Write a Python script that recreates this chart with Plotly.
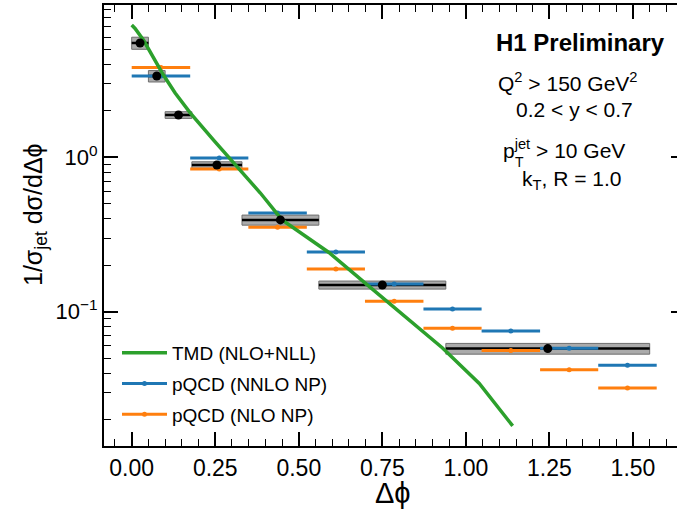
import plotly.graph_objects as go

# ---------------- data ----------------
data_edges = [0.0, 0.05, 0.10, 0.18, 0.33, 0.56, 0.94, 1.55]
data_x = [0.025, 0.075, 0.14, 0.255, 0.445, 0.75, 1.245]
data_y = [5.50, 3.36, 1.88, 0.891, 0.393, 0.149, 0.0577]
data_syst = [0.09, 0.085, 0.05, 0.05, 0.075, 0.06, 0.08]

theory_edges = [0.0, 0.175, 0.349, 0.524, 0.698, 0.873, 1.047, 1.222, 1.396, 1.571]
nnlo_np = [3.36, 0.99, 0.435, 0.244, 0.151, 0.104, 0.075, 0.058, 0.045]
nlo_np = [3.82, 0.84, 0.353, 0.189, 0.117, 0.078, 0.056, 0.042, 0.032]

tmd_x = [0.0, 0.01, 0.035, 0.065, 0.095, 0.13, 0.175, 0.245, 0.31, 0.385, 0.45,
         0.505, 0.59, 0.705, 0.93, 1.04, 1.14]
tmd_y = [7.19, 6.83, 5.75, 4.38, 3.41, 2.61, 1.94, 1.29, 0.891, 0.587, 0.393,
         0.323, 0.242, 0.149, 0.0582, 0.0343, 0.0182]

x_ticks = [0.0, 0.25, 0.5, 0.75, 1.0, 1.25, 1.5]
x_ticktext = ["0.00", "0.25", "0.50", "0.75", "1.00", "1.25", "1.50"]
y_ticks = [0.1, 1.0]
y_ticktext = ["10<sup>\u22121</sup>", "10<sup>0</sup>"]
y_minor = [m * d for d in (0.01, 0.1, 1.0) for m in range(2, 10)]

BLUE = "#1f77b4"
ORANGE = "#ff7f0e"
GREEN = "#2ca02c"
FONT = "Liberation Sans"

# derived
d_lo = [x - a for x, a in zip(data_x, data_edges[:-1])]
d_hi = [b - x for x, b in zip(data_x, data_edges[1:])]
d_w = [b - a for a, b in zip(data_edges[:-1], data_edges[1:])]
box_lo = [y * (1 - e) for y, e in zip(data_y, data_syst)]
box_hi = [y * (1 + e) for y, e in zip(data_y, data_syst)]
t_c = [(a + b) / 2 for a, b in zip(theory_edges[:-1], theory_edges[1:])]
t_hw = [(b - a) / 2 for a, b in zip(theory_edges[:-1], theory_edges[1:])]

fig = go.Figure()

fig.add_trace(go.Bar(
    x=data_x, base=box_lo, y=[h - l for h, l in zip(box_hi, box_lo)], width=d_w,
    marker=dict(color="rgba(150,150,150,0.8)", line=dict(color="rgb(110,110,110)", width=1)),
    showlegend=False, hoverinfo="skip"))

fig.add_trace(go.Scatter(
    x=data_x, y=data_y, mode="markers", marker=dict(size=1, color="rgba(0,0,0,0)"),
    error_x=dict(type="data", symmetric=False, array=d_hi, arrayminus=d_lo,
                 width=0, thickness=2.5, color="black"),
    showlegend=False))

for vals, col in ((nnlo_np, BLUE), (nlo_np, ORANGE)):
    fig.add_trace(go.Scatter(
        x=t_c, y=vals, mode="markers", marker=dict(size=5, color=col),
        error_x=dict(type="data", array=t_hw, width=0, thickness=3, color=col),
        showlegend=False))

fig.add_trace(go.Scatter(
    x=tmd_x, y=tmd_y, mode="lines", line=dict(color=GREEN, width=3.5),
    name="TMD (NLO+NLL)", legendrank=1, legendgroup="a"))

fig.add_trace(go.Scatter(
    x=data_x, y=data_y, mode="markers", marker=dict(size=9, color="black"),
    showlegend=False))

# legend entries for theory
fig.add_trace(go.Scatter(x=[None], y=[None], mode="lines+markers",
                         line=dict(color=BLUE, width=3), marker=dict(size=5, color=BLUE),
                         name="pQCD (NNLO NP)", legendrank=2, legendgroup="b"))
fig.add_trace(go.Scatter(x=[None], y=[None], mode="lines+markers",
                         line=dict(color=ORANGE, width=3), marker=dict(size=5, color=ORANGE),
                         name="pQCD (NLO NP)", legendrank=3, legendgroup="c"))

# right-hand ticks
fig.add_trace(go.Scatter(x=[None], y=[None], yaxis="y2", showlegend=False))

L, R, T, B = 104, 677, 5, 446
W, H = 677, 516


def px(x):
    return (x - L) / (R - L)


def py(y):
    return (B - y) / (B - T)


fig.update_layout(
    width=W, height=H,
    margin=dict(l=L, r=W - R, t=T, b=H - B),
    paper_bgcolor="white", plot_bgcolor="white",
    font=dict(family=FONT, color="black"),
    barmode="overlay",
    showlegend=True,
    legend=dict(x=px(117), y=py(334), xanchor="left", yanchor="top",
                font=dict(size=19, family=FONT), bgcolor="rgba(0,0,0,0)",
                traceorder="grouped", tracegroupgap=3, itemwidth=45),
    xaxis=dict(range=[-0.0829, 1.6317], tickvals=x_ticks, ticktext=x_ticktext,
               ticks="inside", ticklen=14, tickwidth=1.5, tickcolor="black",
               showline=True, linewidth=2, linecolor="black", mirror="ticks",
               showgrid=False, zeroline=False,
               tickfont=dict(size=23, family=FONT),
               minor=dict(dtick=0.05, tick0=0, ticks="inside", ticklen=7,
                          tickwidth=1.2, tickcolor="black", showgrid=False)),
    yaxis=dict(type="log", range=[-1.8698, 0.9864], tickvals=y_ticks, ticktext=y_ticktext,
               ticks="inside", ticklen=14, tickwidth=1.5, tickcolor="black",
               showline=True, linewidth=2, linecolor="black", mirror=False,
               showgrid=False, zeroline=False,
               tickfont=dict(size=22, family=FONT),
               minor=dict(tickvals=y_minor, ticks="inside", ticklen=7,
                          tickwidth=1.2, tickcolor="black", showgrid=False)),
    yaxis2=dict(type="log", range=[-1.8698, 0.9864], overlaying="y", side="right",
                anchor="x", tickvals=y_ticks, ticks="inside", ticklen=6, tickwidth=1.5,
                tickcolor="black", showticklabels=False, showline=False,
                showgrid=False, zeroline=False),
)

ann = []
ann.append(dict(text="<b>H1 Preliminary</b>", x=px(667), y=py(43), xanchor="right",
                yanchor="middle", font=dict(size=24)))
ann.append(dict(text="Q<sup>2</sup> &gt; 150 GeV<sup>2</sup>", x=px(568), y=py(82),
                xanchor="center", yanchor="middle", font=dict(size=21)))
ann.append(dict(text="0.2 &lt; y &lt; 0.7", x=px(574), y=py(109),
                xanchor="center", yanchor="middle", font=dict(size=21)))
ann.append(dict(text="p<sup>jet</sup> &gt; 10 GeV", x=px(501), y=py(149),
                xanchor="left", yanchor="middle", font=dict(size=21)))
ann.append(dict(text="T", x=px(513), y=py(162), xanchor="left",
                yanchor="middle", font=dict(size=14)))
ann.append(dict(text="k<sub>T</sub>, R = 1.0", x=px(571), y=py(180),
                xanchor="center", yanchor="middle", font=dict(size=21)))
ann.append(dict(text="1/\u03c3<sub>jet</sub> d\u03c3/d\u0394\u03d5", x=px(35), y=py(215),
                xanchor="center", yanchor="middle", textangle=-90, font=dict(size=25)))
ann.append(dict(text="\u0394\u03d5", x=px(393), y=py(493), xanchor="center",
                yanchor="middle", font=dict(size=29)))
for a in ann:
    a.update(xref="paper", yref="paper", showarrow=False)
fig.update_layout(annotations=ann)

fig.write_html("out.html", config={"displayModeBar": False},
               post_script="document.body.style.margin='0px';")
